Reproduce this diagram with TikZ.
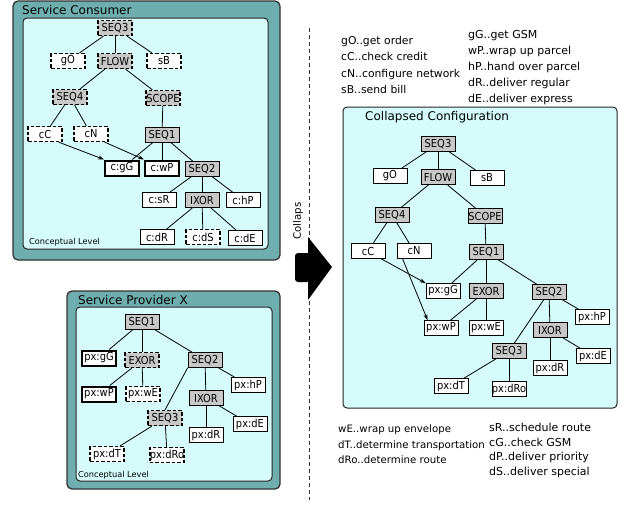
\documentclass[tikz,border=0pt]{standalone}
\usepackage{fontspec}
\setmainfont{DejaVu Sans}
\newfontfamily\condfont{DejaVu Sans Condensed}
\usetikzlibrary{arrows.meta}
\definecolor{teal1}{RGB}{111,174,174}
\definecolor{cyan1}{RGB}{213,251,251}
\definecolor{gry}{RGB}{200,200,200}
\tikzset{
  outerbox/.style={draw=black!80, fill=teal1, line width=1.3pt, rounded corners=5pt},
  innerbox/.style={draw=black!85, fill=cyan1, line width=1pt, rounded corners=4pt},
  bx/.style={draw=black, minimum width=34pt, minimum height=15pt, inner sep=0pt, line width=0.8pt,
    font=\condfont\fontsize{11}{12}\selectfont},
  act/.style={bx, fill=white},
  ctl/.style={bx, fill=gry},
  dsh/.style={line width=1.2pt, dash pattern=on 3.5pt off 2pt},
  thk/.style={line width=2pt},
  edge/.style={draw=black, line width=0.8pt},
  arr/.style={edge, -{Stealth[length=6pt,width=4pt]}},
  ttl/.style={anchor=base west, inner sep=0pt, font=\fontsize{12}{14}\selectfont},
  lvl/.style={anchor=base west, inner sep=0pt, font=\fontsize{8.2}{10}\selectfont},
  legl/.style={anchor=base west, inner sep=0pt, font=\fontsize{10.8}{13}\selectfont},
  legb/.style={anchor=base west, inner sep=0pt, font=\fontsize{10.2}{13}\selectfont},
  legr/.style={anchor=base west, inner sep=0pt, font=\fontsize{11}{13}\selectfont}
}
\begin{document}
\begin{tikzpicture}[x=1pt,y=-1pt]
\useasboundingbox (0,0) rectangle (624,512);
\fill[white] (0,0) rectangle (624,512);

% ---------------- Service Consumer ----------------
\draw[outerbox] (13,1) rectangle (280,260);
\draw[innerbox] (23,18) rectangle (268,249);
\node[ttl] (ctitle) at (22,14.5) {Service Consumer};
\node[lvl] (clevel) at (29,244) {Conceptual Level};

\node[ctl,dsh] (c-seq3) at (115,28) {SEQ3};
\node[act,dsh] (c-go) at (68,61) {gO};
\node[ctl,dsh] (c-flow) at (115,61) {FLOW};
\node[act,dsh] (c-sb) at (164,61) {sB};
\node[ctl,dsh] (c-seq4) at (70,97) {SEQ4};
\node[ctl,dsh] (c-scope) at (163,98) {SCOPE};
\node[act,dsh] (c-cc) at (45,134) {cC};
\node[act,dsh] (c-cn) at (91,134) {cN};
\node[ctl] (c-seq1) at (162,135) {SEQ1};
\node[act,thk] (c-gg) at (122,168) {c:gG};
\node[act,thk] (c-wp) at (162,168) {c:wP};
\node[ctl] (c-seq2) at (202,169) {SEQ2};
\node[act] (c-sr) at (159,200) {c:sR};
\node[ctl] (c-ixor) at (202,200) {IXOR};
\node[act] (c-hp) at (243,200) {c:hP};
\node[act] (c-dr) at (157,237) {c:dR};
\node[act,dsh] (c-ds) at (203,237) {c:dS};
\node[act] (c-de) at (245,238) {c:dE};

\draw[edge] (c-seq3) -- (c-go);
\draw[edge] (c-seq3) -- (c-flow);
\draw[edge] (c-seq3) -- (c-sb);
\draw[edge] (c-flow) -- (c-seq4);
\draw[edge] (c-flow) -- (c-scope);
\draw[edge] (c-seq4) -- (c-cc);
\draw[edge] (c-seq4) -- (c-cn);
\draw[edge] (c-scope) -- (c-seq1);
\draw[edge] (c-seq1) -- (c-gg);
\draw[edge] (c-seq1) -- (c-wp);
\draw[edge] (c-seq1) -- (c-seq2);
\draw[edge] (c-seq2) -- (c-sr);
\draw[edge] (c-seq2) -- (c-ixor);
\draw[edge] (c-seq2) -- (c-hp);
\draw[edge] (c-ixor) -- (c-dr);
\draw[edge] (c-ixor) -- (c-ds);
\draw[edge] (c-ixor) -- (c-de);
\draw[arr] ([xshift=-4pt]c-cc.south east) -- (c-gg.north west);
\draw[arr] ([xshift=-4pt]c-cn.south east) -- (c-wp.north west);

% ---------------- Service Provider X ----------------
\draw[outerbox] (67,291) rectangle (280,489);
\draw[innerbox] (76,307) rectangle (272,481);
\node[ttl] (ptitle) at (78,304.5) {Service Provider X};
\node[lvl] (plevel) at (78,477) {Conceptual Level};

\node[ctl] (p-seq1) at (142,322) {SEQ1};
\node[act,thk] (p-gg) at (99,358) {px:gG};
\node[ctl,dsh] (p-exor) at (142,360) {EXOR};
\node[ctl] (p-seq2) at (205,360) {SEQ2};
\node[act,thk] (p-wp) at (99,394) {px:wP};
\node[act,dsh,line width=1.6pt] (p-we) at (143,394) {px:wE};
\node[act] (p-hp) at (248,385) {px:hP};
\node[ctl] (p-ixor) at (206,398) {IXOR};
\node[ctl,dsh] (p-seq3) at (165,418) {SEQ3};
\node[act] (p-de) at (250,424) {px:dE};
\node[act] (p-dr) at (206,435) {px:dR};
\node[act,dsh] (p-dt) at (107,454) {px:dT};
\node[act,dsh] (p-dro) at (167,455) {px:dRo};

\draw[edge] (p-seq1) -- (p-gg);
\draw[edge] (p-seq1) -- (p-exor);
\draw[edge] (p-seq1) -- (p-seq2);
\draw[edge] (p-exor) -- (p-wp);
\draw[edge] (p-exor) -- (p-we);
\draw[edge] (p-seq2.south west) -- (p-seq3.north);
\draw[edge] (p-seq2) -- (p-ixor);
\draw[edge] (p-seq2) -- (p-hp);
\draw[edge] (p-ixor) -- (p-dr);
\draw[edge] (p-ixor) -- (p-de);
\draw[edge] (p-seq3) -- (p-dt);
\draw[edge] (p-seq3) -- (p-dro);

% ---------------- separator and arrow ----------------
\coordinate (sepT) at (309,28);
\coordinate (sepB) at (309,500);
\draw[black!80, line width=0.9pt, dash pattern=on 4pt off 3pt] (sepT) -- (sepB);
\fill[black] (308,237) -- (332,267) -- (308,300) -- cycle;
\fill[black, rounded corners=3pt] (310,253) -- (295,253) -- (295,282) -- (310,282) -- cycle;
\node[rotate=90, inner sep=0pt, font=\fontsize{10.2}{12}\selectfont] (collaps) at (298,221) {Collaps};

% ---------------- legends ----------------
\node[legl] (l1) at (341,44) {gO..get order};
\node[legl] (l2) at (341,60.5) {cC..check credit};
\node[legl] (l3) at (341,77) {cN..configure network};
\node[legl] (l4) at (341,93) {sB..send bill};
\node[legr] (r1) at (468,38) {gG..get GSM};
\node[legr] (r2) at (468,54) {wP..wrap up parcel};
\node[legr] (r3) at (468,70) {hP..hand over parcel};
\node[legr] (r4) at (468,86) {dR..deliver regular};
\node[legr] (r5) at (468,102) {dE..deliver express};

\node[legb] (b1) at (338,432) {wE..wrap up envelope};
\node[legb] (b2) at (338,448) {dT..determine transportation};
\node[legb] (b3) at (338,463) {dRo..determine route};
\node[legr] (b4) at (489,431) {sR..schedule route};
\node[legr] (b5) at (489,446) {cG..check GSM};
\node[legr] (b6) at (489,460.5) {dP..deliver priority};
\node[legr] (b7) at (489,475) {dS..deliver special};

% ---------------- Collapsed configuration ----------------
\draw[innerbox] (343,107) rectangle (617,408);
\node[ttl] (ktitle) at (365,120) {Collapsed Configuration};

\node[ctl] (k-seq3) at (438,144) {SEQ3};
\node[act] (k-go) at (390,176) {gO};
\node[ctl] (k-flow) at (438,177) {FLOW};
\node[act] (k-sb) at (487,178) {sB};
\node[ctl] (k-seq4) at (392,215) {SEQ4};
\node[ctl] (k-scope) at (485,216) {SCOPE};
\node[act] (k-cc) at (368,251) {cC};
\node[act] (k-cn) at (414,251) {cN};
\node[ctl] (k-seq1) at (486,252) {SEQ1};
\node[act] (k-gg) at (443,291) {px:gG};
\node[ctl] (k-exor) at (486,291) {EXOR};
\node[ctl] (k-seq2) at (549,292) {SEQ2};
\node[act] (k-wp) at (441,328) {px:wP};
\node[act] (k-we) at (486,328) {px:wE};
\node[act] (k-hp) at (592,317) {px:hP};
\node[ctl] (k-ixor) at (550,330) {IXOR};
\node[ctl] (k-seq3b) at (509,351) {SEQ3};
\node[act] (k-de) at (593,356) {px:dE};
\node[act] (k-dr) at (550,368) {px:dR};
\node[act] (k-dt) at (451,386) {px:dT};
\node[act] (k-dro) at (509,389) {px:dRo};

\draw[edge] (k-seq3) -- (k-go);
\draw[edge] (k-seq3) -- (k-flow);
\draw[edge] (k-seq3) -- (k-sb);
\draw[edge] (k-flow) -- (k-seq4);
\draw[edge] (k-flow) -- (k-scope);
\draw[edge] (k-seq4) -- (k-cc);
\draw[edge] (k-seq4) -- (k-cn);
\draw[edge] (k-scope) -- (k-seq1);
\draw[edge] (k-seq1) -- (k-gg);
\draw[edge] (k-seq1) -- (k-exor);
\draw[edge] (k-seq1) -- (k-seq2);
\draw[edge] (k-exor) -- (k-wp);
\draw[edge] (k-exor) -- (k-we);
\draw[edge] (k-seq2) -- (k-seq3b);
\draw[edge] (k-seq2) -- (k-ixor);
\draw[edge] (k-seq2) -- (k-hp);
\draw[edge] (k-ixor) -- (k-dr);
\draw[edge] (k-ixor) -- (k-de);
\draw[edge] (k-seq3b) -- (k-dt);
\draw[edge] (k-seq3b) -- (k-dro);
\draw[arr] ([xshift=-4pt]k-cc.south east) -- (k-gg.north west);
\draw[arr] ([xshift=6pt]k-cn.south west) -- ([xshift=4pt]k-wp.north west);
\end{tikzpicture}
\end{document}
